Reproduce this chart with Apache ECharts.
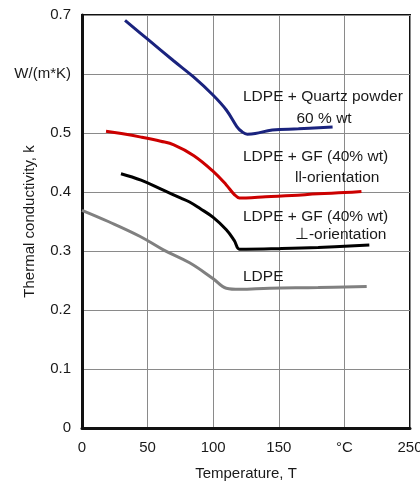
<!DOCTYPE html>
<html>
<head>
<meta charset="utf-8">
<script src="https://cdn.jsdelivr.net/npm/echarts@6/dist/echarts.min.js"></script>
<style>
html,body{margin:0;padding:0;background:#fff;}
#chart{width:420px;height:483px;}
</style>
</head>
<body>
<div id="chart"></div>
<script>
// ---- data ----
var quartzT = [32.8, 50, 70, 85, 100, 110, 118, 122, 126, 132, 145, 165, 191];
var quartzK = [0.691, 0.659, 0.622, 0.595, 0.564, 0.539, 0.511, 0.502, 0.498, 0.499, 0.505, 0.507, 0.510];

var gfParT = [18.3, 30, 45, 60, 70, 85, 100, 110, 116, 120, 125, 140, 160, 180, 200, 213];
var gfParK = [0.503, 0.499, 0.493, 0.486, 0.480, 0.462, 0.435, 0.412, 0.396, 0.390, 0.390, 0.392, 0.394, 0.397, 0.399, 0.401];

var gfPerpT = [29.7, 45, 62, 75, 82, 90, 100, 110, 116, 120, 125, 150, 180, 219];
var gfPerpK = [0.431, 0.420, 0.403, 0.390, 0.383, 0.372, 0.357, 0.336, 0.318, 0.303, 0.303, 0.304, 0.306, 0.310];

var ldpeT = [0, 20, 44, 62, 82, 100, 110, 120, 143, 180, 217];
var ldpeK = [0.369, 0.350, 0.325, 0.302, 0.280, 0.253, 0.237, 0.235, 0.237, 0.238, 0.240];

var xTickLabels = ['0', '50', '100', '150', '°C', '250'];
var yTickLabels = ['0', '0.1', '0.2', '0.3', '0.4', '0.5', 'W/(m*K)', '0.7'];

// annotation texts anchored at data coordinates
var annotations = [
  {text: 'LDPE + Quartz powder', T: 122.7, k: 0.561, align: 'left'},
  {text: '60 % wt', T: 184.5, k: 0.524, align: 'center'},
  {text: 'LDPE + GF (40% wt)', T: 122.7, k: 0.459, align: 'left'},
  {text: 'll-orientation', T: 162.3, k: 0.4235, align: 'left'},
  {text: 'LDPE + GF (40% wt)', T: 122.7, k: 0.358, align: 'left'},
  {text: '\u22a5-orientation', T: 162.3, k: 0.328, align: 'left'},
  {text: 'LDPE', T: 122.7, k: 0.257, align: 'left'}
];

function pairs(xs, ys) { return xs.map(function (x, i) { return [x, ys[i]]; }); }

var FONT = '"Liberation Sans", Arial, sans-serif';
var chart = echarts.init(document.getElementById('chart'));

function mkSeries(name, xs, ys, color) {
  return {
    name: name, type: 'line', data: pairs(xs, ys), smooth: 0.4,
    showSymbol: false, symbol: 'none',
    lineStyle: {color: color, width: 3}, animation: false
  };
}

chart.setOption({
  animation: false,
  grid: {left: 82, right: 10, top: 15, bottom: 55, containLabel: false, outerBoundsMode: 'none',
    show: true, borderColor: '#111', borderWidth: 2, backgroundColor: 'transparent'},
  xAxis: {
    type: 'value', min: 0, max: 250, interval: 50,
    name: 'Temperature, T', nameLocation: 'middle', nameGap: 38, nameMoveOverlap: false,
    nameTextStyle: {fontFamily: FONT, fontSize: 15, color: '#1a1a1a'},
    axisLine: {show: true, lineStyle: {color: '#111', width: 3}},
    axisTick: {show: false},
    axisLabel: {fontFamily: FONT, fontSize: 15, color: '#1a1a1a', margin: 12,
      formatter: function (v) { return xTickLabels[Math.round(v / 50)]; }},
    splitLine: {show: true, lineStyle: {color: '#8a8a8a', width: 1}}
  },
  yAxis: {
    type: 'value', min: 0, max: 0.7, interval: 0.1,
    name: 'Thermal conductivity, k', nameLocation: 'middle', nameGap: 45, nameMoveOverlap: false,
    nameTextStyle: {fontFamily: FONT, fontSize: 15, color: '#1a1a1a'},
    axisLine: {show: true, lineStyle: {color: '#111', width: 3}},
    axisTick: {show: false},
    axisLabel: {fontFamily: FONT, fontSize: 15, color: '#1a1a1a', margin: 11,
      formatter: function (v) { return yTickLabels[Math.round(v * 10)]; }},
    splitLine: {show: true, lineStyle: {color: '#8a8a8a', width: 1}}
  },
  series: [
    mkSeries('LDPE + Quartz powder 60 % wt', quartzT, quartzK, '#1a237e'),
    mkSeries('LDPE + GF (40% wt) ll-orientation', gfParT, gfParK, '#cc0000'),
    mkSeries('LDPE + GF (40% wt) \u22a5-orientation', gfPerpT, gfPerpK, '#000000'),
    mkSeries('LDPE', ldpeT, ldpeK, '#808080')
  ]
});

var gfx = annotations.map(function (a) {
  var p = chart.convertToPixel({gridIndex: 0}, [a.T, a.k]);
  return {
    type: 'text', x: p[0], y: p[1], silent: true,
    style: {text: a.text, fontFamily: FONT, fontSize: 15.5, fill: '#1a1a1a',
      align: a.align, verticalAlign: 'middle'}
  };
});
chart.setOption({graphic: gfx});
</script>
</body>
</html>
